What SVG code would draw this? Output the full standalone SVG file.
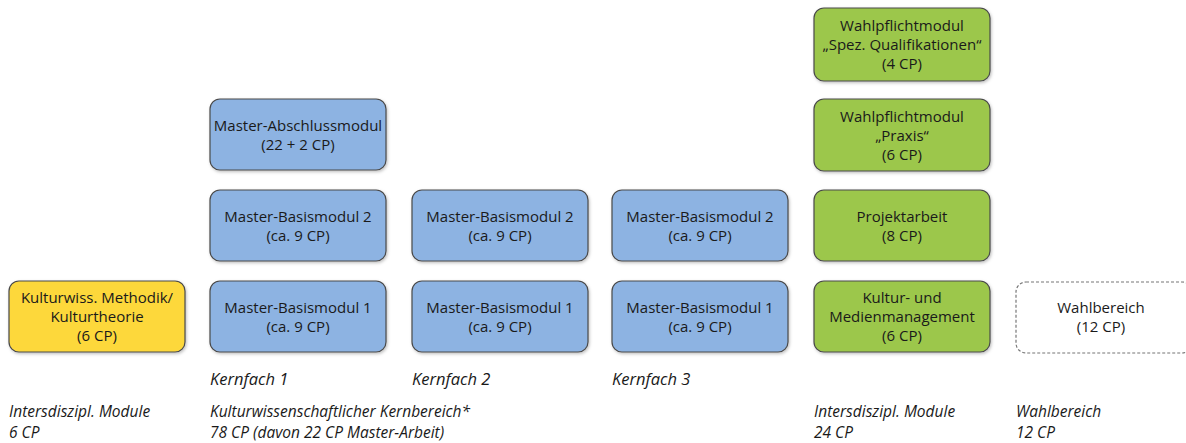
<svg xmlns="http://www.w3.org/2000/svg" width="1186" height="443" viewBox="0 0 1186 443">
<style>
.box{stroke:#4a4a4a;stroke-width:1.2}
.y{fill:#fdd83a}
.b{fill:#8db3e2}
.g{fill:#9cc74c}
.w{fill:#fff;stroke:#777;stroke-width:1.2;stroke-dasharray:3 2}
text{font-family:"Open Sans","Noto Sans","Liberation Sans",sans-serif;font-size:15px;fill:#1a1a1a}
.c{text-anchor:middle}
.i{font-style:italic;font-size:16.5px}
.j{font-style:italic;font-size:15.5px}
</style>
<defs>
<filter id="sh" x="-10%" y="-10%" width="130%" height="130%"><feDropShadow dx="1" dy="1.5" stdDeviation="1.5" flood-color="#000" flood-opacity="0.25"/></filter>
</defs>
<g id="n-kultur-methodik"><rect class="box y" filter="url(#sh)" x="9" y="281" width="176" height="71" rx="10"/><text class="c" x="97" y="303">Kulturwiss. Methodik/<tspan x="97" dy="19">Kulturtheorie</tspan><tspan x="97" dy="19">(6 CP)</tspan></text></g>
<g id="n-abschluss"><rect class="box b" filter="url(#sh)" x="210" y="99" width="176" height="71" rx="10"/><text class="c" x="298" y="131">Master-Abschlussmodul<tspan x="298" dy="19">(22 + 2 CP)</tspan></text></g>
<g id="n-k1-b2"><rect class="box b" filter="url(#sh)" x="210" y="190" width="176" height="71" rx="10"/><text class="c" x="298" y="222">Master-Basismodul 2<tspan x="298" dy="19">(ca. 9 CP)</tspan></text></g>
<g id="n-k1-b1"><rect class="box b" filter="url(#sh)" x="210" y="281" width="176" height="71" rx="10"/><text class="c" x="298" y="313">Master-Basismodul 1<tspan x="298" dy="19">(ca. 9 CP)</tspan></text></g>
<g id="n-k2-b2"><rect class="box b" filter="url(#sh)" x="412" y="190" width="176" height="71" rx="10"/><text class="c" x="500" y="222">Master-Basismodul 2<tspan x="500" dy="19">(ca. 9 CP)</tspan></text></g>
<g id="n-k2-b1"><rect class="box b" filter="url(#sh)" x="412" y="281" width="176" height="71" rx="10"/><text class="c" x="500" y="313">Master-Basismodul 1<tspan x="500" dy="19">(ca. 9 CP)</tspan></text></g>
<g id="n-k3-b2"><rect class="box b" filter="url(#sh)" x="612" y="190" width="176" height="71" rx="10"/><text class="c" x="700" y="222">Master-Basismodul 2<tspan x="700" dy="19">(ca. 9 CP)</tspan></text></g>
<g id="n-k3-b1"><rect class="box b" filter="url(#sh)" x="612" y="281" width="176" height="71" rx="10"/><text class="c" x="700" y="313">Master-Basismodul 1<tspan x="700" dy="19">(ca. 9 CP)</tspan></text></g>
<g id="n-spez"><rect class="box g" filter="url(#sh)" x="814" y="8" width="176" height="73" rx="10"/><text class="c" x="902" y="31">Wahlpflichtmodul<tspan x="902" dy="19">„Spez. Qualifikationen“</tspan><tspan x="902" dy="19">(4 CP)</tspan></text></g>
<g id="n-praxis"><rect class="box g" filter="url(#sh)" x="814" y="99" width="176" height="72" rx="10"/><text class="c" x="902" y="122">Wahlpflichtmodul<tspan x="902" dy="19">„Praxis“</tspan><tspan x="902" dy="19">(6 CP)</tspan></text></g>
<g id="n-projekt"><rect class="box g" filter="url(#sh)" x="814" y="190" width="176" height="71" rx="10"/><text class="c" x="902" y="222">Projektarbeit<tspan x="902" dy="19">(8 CP)</tspan></text></g>
<g id="n-medien"><rect class="box g" filter="url(#sh)" x="814" y="281" width="176" height="71" rx="10"/><text class="c" x="902" y="303">Kultur- und<tspan x="902" dy="19">Medienmanagement</tspan><tspan x="902" dy="19">(6 CP)</tspan></text></g>
<g id="n-wahl"><rect class="w" x="1016" y="282" width="176" height="71" rx="10"/><text class="c" x="1101" y="313">Wahlbereich<tspan x="1101" dy="19">(12 CP)</tspan></text></g>
<g id="labels">
<text class="i" x="210" y="385">Kernfach 1</text>
<text class="i" x="412" y="385">Kernfach 2</text>
<text class="i" x="612" y="385">Kernfach 3</text>
<text class="j" x="9" y="417">Intersdiszipl. Module</text>
<text class="j" x="9" y="438">6 CP</text>
<text class="j" x="210" y="417">Kulturwissenschaftlicher Kernbereich*</text>
<text class="j" x="210" y="438">78 CP (davon 22 CP Master-Arbeit)</text>
<text class="j" x="814" y="417">Intersdiszipl. Module</text>
<text class="j" x="814" y="438">24 CP</text>
<text class="j" x="1016" y="417">Wahlbereich</text>
<text class="j" x="1016" y="438">12 CP</text>
</g>
<g id="connectors"></g>
</svg>
